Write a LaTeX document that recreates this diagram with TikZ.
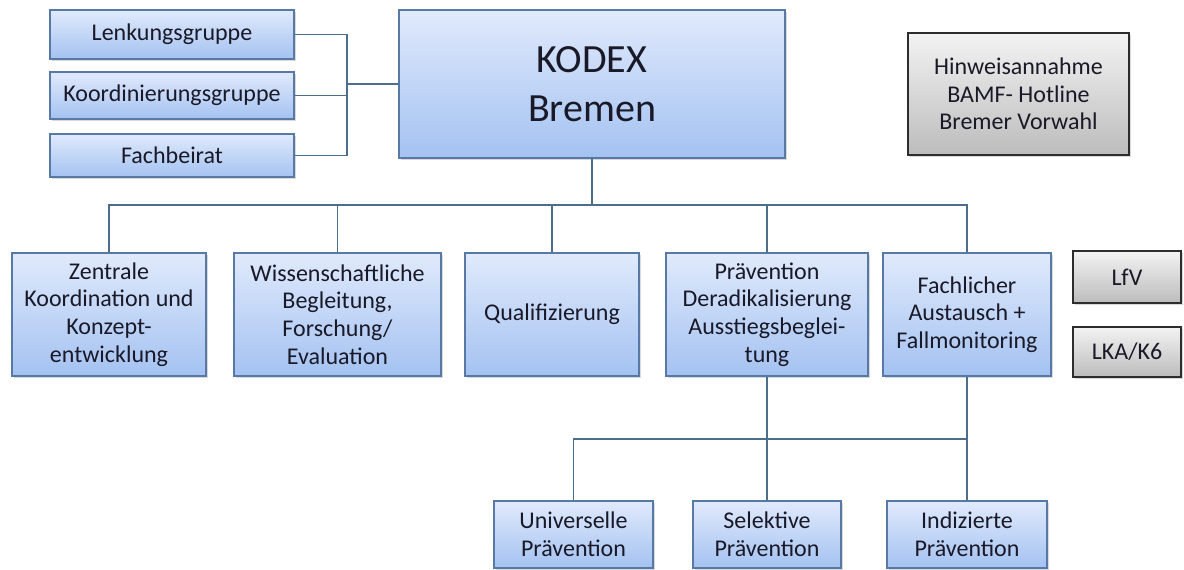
\documentclass[tikz,border=0pt]{standalone}
\usepackage{fontspec}
\setmainfont{Carlito}
\usepackage{xcolor}
\usepackage{tikz}
\usetikzlibrary{shadows}

\definecolor{boxtop}{RGB}{224,234,252}
\definecolor{boxbot}{RGB}{164,194,241}
\definecolor{boxline}{RGB}{88,120,165}
\definecolor{conline}{RGB}{78,108,140}
\definecolor{graytop}{RGB}{243,243,243}
\definecolor{graybot}{RGB}{188,188,188}
\definecolor{grayline}{RGB}{45,45,45}
\definecolor{txtcol}{RGB}{25,25,40}

\tikzset{
  bluebox/.style={draw=boxline, line width=0.9pt, top color=boxtop, bottom color=boxbot,
    drop shadow={shadow xshift=1.5pt, shadow yshift=-1.5pt, opacity=0.3},
    align=center, inner sep=0pt, text=txtcol, font=\fontsize{18}{20.8}\selectfont},
  graybox/.style={bluebox, draw=grayline, top color=graytop, bottom color=graybot},
  conn/.style={draw=conline, line width=1.2pt}
}

\begin{document}
\begin{tikzpicture}[x=0.75pt,y=0.75pt,yscale=-1,xscale=1]
	\useasboundingbox (0,0) rectangle (1184,570);

	% Gremien links
	\node [bluebox, minimum width=183pt, minimum height=36.75pt] (lenk) at (172,34.5) {Lenkungsgruppe};
	\node [bluebox, minimum width=183pt, minimum height=35.25pt] (koord) at (172,95.5) {Koordinierungsgruppe};
	\node [bluebox, minimum width=183pt, minimum height=32.25pt] (beirat) at (172,155.5) {Fachbeirat};

	% Hauptknoten
	\node [bluebox, minimum width=289.5pt, minimum height=111pt, font=\fontsize{30}{36.5}\selectfont] (kodex) at (592,84) {KODEX\\Bremen};

	% Hinweisannahme
	\node [graybox, minimum width=165.75pt, minimum height=91.5pt] (hinweis) at (1018.5,94) {Hinweisannahme\\BAMF- Hotline\\Bremer Vorwahl};

	% Arbeitsbereiche
	\node [bluebox, minimum width=145.5pt, minimum height=92.25pt] (zentr) at (109,314.5) {Zentrale\\Koordination und\\Konzept-\\entwicklung};
	\node [bluebox, minimum width=155.25pt, minimum height=92.25pt] (wiss) at (337.5,314.5) {Wissenschaftliche\\Begleitung,\\Forschung/\\Evaluation};
	\node [bluebox, minimum width=130.5pt, minimum height=92.25pt] (quali) at (552,314.5) {Qualifizierung};
	\node [bluebox, minimum width=151.5pt, minimum height=92.25pt] (praev) at (767,314.5) {Prävention\\Deradikalisierung\\Ausstiegsbeglei-\\tung};
	\node [bluebox, minimum width=126pt, minimum height=92.25pt] (fachl) at (967,314.5) {Fachlicher\\Austausch +\\Fallmonitoring};

	% Behoerden
	\node [graybox, minimum width=81pt, minimum height=39pt] (lfv) at (1127,277) {LfV};
	\node [graybox, minimum width=81pt, minimum height=37.5pt] (lka) at (1127,352) {LKA/K6};

	% Praeventionsstufen
	\node [bluebox, minimum width=119.25pt, minimum height=50.25pt] (univ) at (573.5,534.5) {Universelle\\Prävention};
	\node [bluebox, minimum width=111pt, minimum height=50.25pt] (selek) at (767,534.5) {Selektive\\Prävention};
	\node [bluebox, minimum width=120pt, minimum height=50.25pt] (indiz) at (967,534.5) {Indizierte\\Prävention};

	% Verbindungen
	\coordinate (brk) at (347,84);
	\coordinate (bus) at (592,205);
	\coordinate (bus2) at (767,439);

	\draw [conn] (lenk.east) -| (brk) |- (beirat.east);
	\draw [conn] (koord.east) -- (koord.east -| brk);
	\draw [conn] (brk) -- (kodex.west);

	\draw [conn] (kodex.south) -- (bus);
	\draw [conn] (zentr.north) |- (bus) -| (fachl.north);
	\foreach \n in {wiss,quali,praev}
		\draw [conn] (\n.north) -- (\n.north |- bus);

	\draw [conn] (praev.south) -- (selek.north);
	\draw [conn] (univ.north) |- (bus2) -| (indiz.north);
	\draw [conn] (fachl.south) -- (indiz.north);
\end{tikzpicture}
\end{document}
